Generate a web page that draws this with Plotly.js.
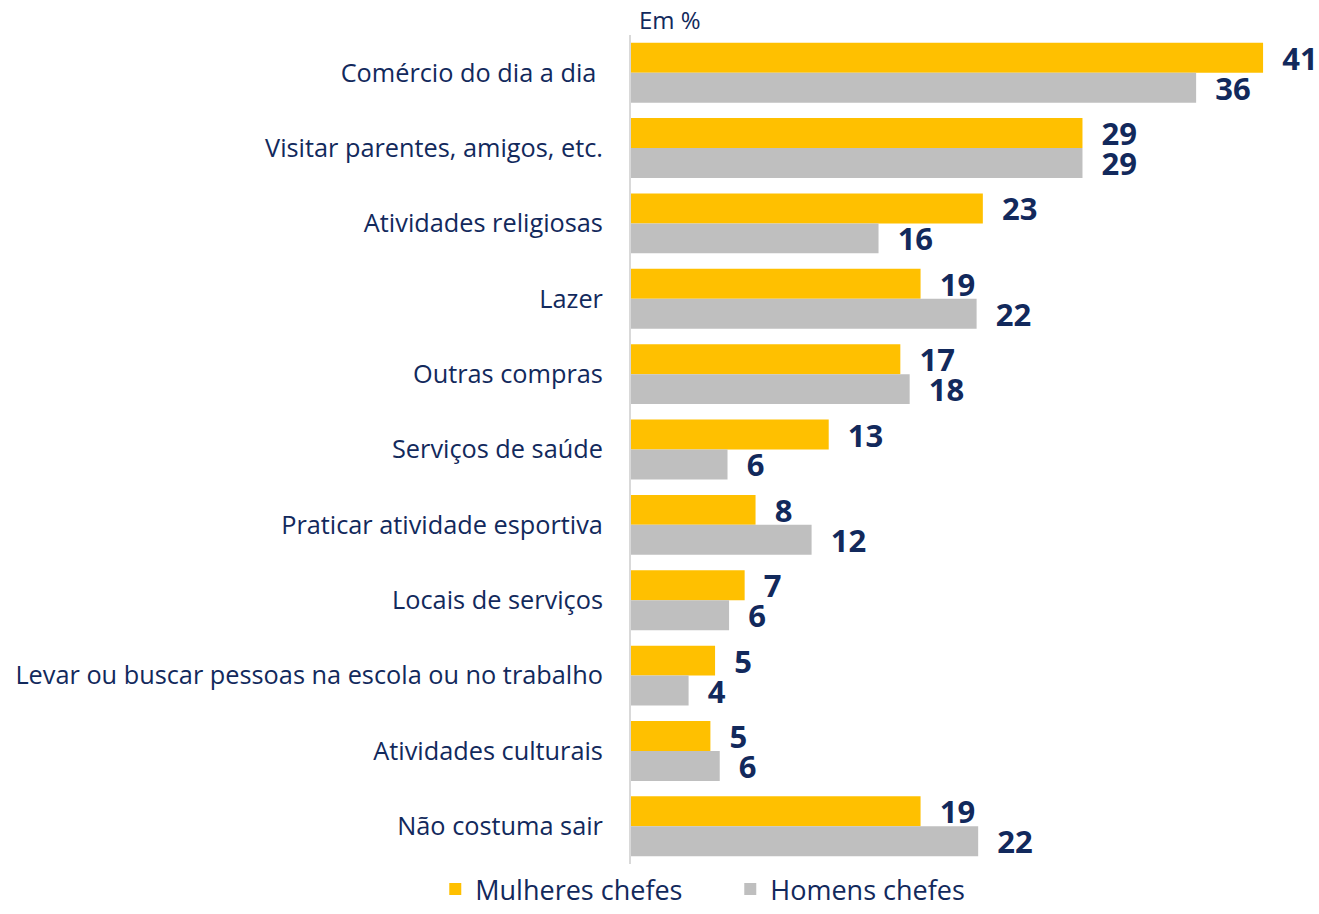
<!DOCTYPE html>
<html>
<head>
<meta charset="utf-8">
<script src="https://cdn.plot.ly/plotly-3.0.1.min.js"></script>
<style>
  html, body { margin: 0; padding: 0; background: #fff; }
  #chart { width: 1319px; height: 914px; }
</style>
</head>
<body>
<div id="chart"></div>
<script>
// Categories (top to bottom)
const categories = [
  "Comércio do dia a dia\u00a0",
  "Visitar parentes, amigos, etc.",
  "Atividades religiosas",
  "Lazer",
  "Outras compras",
  "Serviços de saúde",
  "Praticar atividade esportiva",
  "Locais de serviços",
  "Levar ou buscar pessoas na escola ou no trabalho",
  "Atividades culturais",
  "Não costuma sair"
];

// Values in % (labels show rounded values)
const mulheresChefes = [40.6, 29.0, 22.6, 18.6, 17.3, 12.7, 8.0, 7.3, 5.4, 5.1, 18.6];
const homensChefes   = [36.3, 29.0, 15.9, 22.2, 17.9, 6.2, 11.6, 6.3, 3.7, 5.7, 22.3];

const seriesNames = ["Mulheres chefes", "Homens chefes"];
const unitLabel = "Em %";

const navy = "#12295C";
const FONT = "'Open Sans', 'Noto Sans', sans-serif";

function barTrace(name, values, color) {
  return {
    type: "bar",
    orientation: "h",
    name: name,
    y: categories,
    x: values,
    marker: { color: color, line: { width: 0 } },
    texttemplate: "\u00a0\u00a0%{x:.0f}",
    textposition: "outside",
    constraintext: "none",
    cliponaxis: false,
    textfont: { family: FONT, size: 31, color: navy, weight: 700 },
    hoverinfo: "skip"
  };
}

const data = [
  barTrace(seriesNames[0], mulheresChefes, "#FFC000"),
  barTrace(seriesNames[1], homensChefes, "#BFBFBF")
];

const layout = {
  width: 1319,
  height: 914,
  margin: { l: 631, r: 3, t: 34.5, b: 49.5, autoexpand: false },
  paper_bgcolor: "#ffffff",
  plot_bgcolor: "#ffffff",
  barmode: "group",
  bargap: 0.205,
  bargroupgap: 0,
  font: { family: FONT, color: navy },
  xaxis: {
    range: [0, 44],
    showgrid: false,
    zeroline: false,
    showticklabels: false,
    ticks: "",
    showline: false,
    fixedrange: true
  },
  yaxis: {
    autorange: "reversed",
    type: "category",
    showgrid: false,
    zeroline: false,
    showline: true,
    linecolor: "#D9D9D9",
    linewidth: 2,
    ticks: "",
    ticklabelstandoff: 21,
    tickfont: { family: FONT, size: 25.3, color: navy },
    fixedrange: true
  },
  showlegend: true,
  legend: {
    orientation: "h",
    traceorder: "normal",
    xref: "container",
    yref: "container",
    x: 0.33,
    xanchor: "left",
    y: 0,
    yanchor: "bottom",
    font: { family: FONT, size: 27, color: navy },
    itemwidth: 30,
    entrywidth: 250,
    entrywidthmode: "pixels",
    tracegroupgap: 0
  },
  annotations: [
    {
      text: unitLabel,
      xref: "paper",
      yref: "paper",
      x: 0,
      y: 1,
      xanchor: "left",
      yanchor: "bottom",
      xshift: 6,
      yshift: -3,
      showarrow: false,
      font: { family: FONT, size: 24, color: navy }
    }
  ]
};

Plotly.newPlot("chart", data, layout, { displayModeBar: false, staticPlot: true });
</script>
</body>
</html>
